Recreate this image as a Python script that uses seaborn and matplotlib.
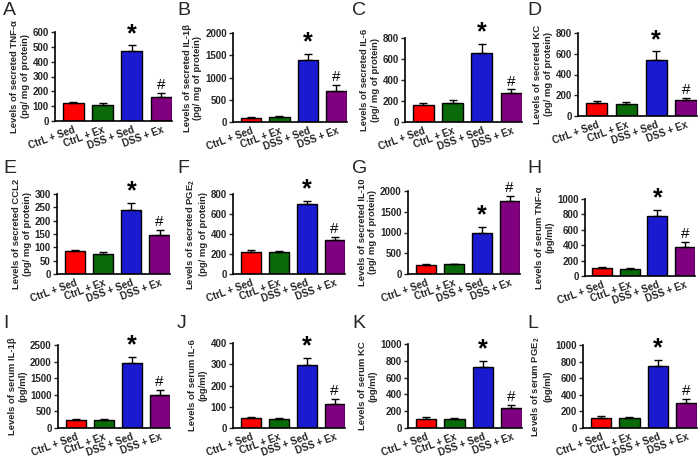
import matplotlib
matplotlib.use("Agg")
import matplotlib.pyplot as plt
import seaborn as sns
import pandas as pd
import numpy as np

sns.set_theme(style="ticks")
plt.rcParams['font.family'] = ['Liberation Sans', 'DejaVu Sans']
plt.rcParams['mathtext.fontset'] = 'custom'
plt.rcParams['mathtext.rm'] = 'Liberation Sans:bold'
plt.rcParams['mathtext.bf'] = 'Liberation Sans:bold'

groups = ["CtrL + Sed", "CtrL + Ex", "DSS + Sed", "DSS + Ex"]
colors = ["#ff0000", "#0a6a0a", "#1a1ad0", "#800080"]

a_mean = [120, 110, 470, 165];   a_err = [10, 12, 42, 22]
b_mean = [100, 110, 1400, 700];  b_err = [15, 15, 130, 140]
c_mean = [165, 180, 660, 275];   c_err = [20, 25, 85, 35]
d_mean = [125, 115, 540, 150];   d_err = [15, 20, 85, 25]
e_mean = [85, 75, 240, 145];     e_err = [5, 6, 27, 20]
f_mean = [225, 220, 700, 340];   f_err = [15, 8, 30, 30]
g_mean = [220, 230, 1000, 1750]; g_err = [20, 20, 140, 140]
h_mean = [100, 90, 780, 375];    h_err = [12, 8, 80, 65]
i_mean = [240, 240, 1950, 1000]; i_err = [40, 30, 200, 150]
j_mean = [45, 43, 295, 115];     j_err = [5, 5, 35, 20]
k_mean = [110, 105, 730, 240];   k_err = [25, 15, 70, 30]
l_mean = [125, 115, 750, 300];   l_err = [15, 15, 70, 55]

panels = [
    ("A", a_mean, a_err, 600, 100, "Levels of secreted TNF-\u03b1\n(pg/ mg of protein)", (55, 32, 172, 121), ["", "", "*", "#"]),
    ("B", b_mean, b_err, 2000, 500, "Levels of secreted IL-1\u03b2\n(pg/ mg of protein)", (233, 33, 347, 122), ["", "", "*", "#"]),
    ("C", c_mean, c_err, 800, 200, "Levels of secreted IL-6\n(pg/ mg of protein)", (405, 38, 522, 122), ["", "", "*", "#"]),
    ("D", d_mean, d_err, 800, 200, "Levels of secreted KC\n(pg/ mg of protein)", (578, 33, 697, 116), ["", "", "*", "#"]),
    ("E", e_mean, e_err, 300, 50, "Levels of secreted CCL2\n(pg/ mg of protein)", (57, 194, 170, 274), ["", "", "*", "#"]),
    ("F", f_mean, f_err, 800, 200, "Levels of secreted PGE$_2$\n(pg/ mg of protein)", (233, 194, 345, 274), ["", "", "*", "#"]),
    ("G", g_mean, g_err, 2000, 500, "Levels of secreted IL-10\n(pg/ mg of protein)", (408, 191, 520, 274), ["", "", "*", "#"]),
    ("H", h_mean, h_err, 1000, 200, "Levels of serum TNF-\u03b1\n(pg/ml)", (585, 199, 695, 276), ["", "", "*", "#"]),
    ("I", i_mean, i_err, 2500, 500, "Levels of serum IL-1\u03b2\n(pg/ml)", (58, 345, 170, 428), ["", "", "*", "#"]),
    ("J", j_mean, j_err, 400, 100, "Levels of serum IL-6\n(pg/ml)", (233, 343, 345, 428), ["", "", "*", "#"]),
    ("K", k_mean, k_err, 1000, 200, "Levels of serum KC\n(pg/ml)", (408, 344, 522, 428), ["", "", "*", "#"]),
    ("L", l_mean, l_err, 1000, 200, "Levels of serum PGE$_2$\n(pg/ml)", (583, 345, 697, 428), ["", "", "*", "#"]),
]

letter_pos = {"A": (3, 2), "B": (177, 2), "C": (352, 2), "D": (527, 2),
              "E": (3, 160), "F": (177, 160), "G": (352, 160), "H": (527, 160),
              "I": (3, 315), "J": (177, 315), "K": (352, 315), "L": (527, 315)}

W, H = 700, 467
fig = plt.figure(figsize=(7, 4.67), dpi=100)

for letter, means, errs, ymax, step, ylabel, (l, t, r, b), marks in panels:
    ax = fig.add_axes([l / W, 1 - b / H, (r - l) / W, (b - t) / H])
    df = pd.DataFrame({"group": groups, "value": means})
    sns.barplot(data=df, x="group", y="value", hue="group", palette=colors,
                order=groups, hue_order=groups, legend=False, width=0.72,
                saturation=1, edgecolor="black", linewidth=1.0, errorbar=None, ax=ax)
    xs = np.arange(len(groups))
    ax.errorbar(xs, means, yerr=[np.zeros(len(errs)), errs], fmt="none",
                ecolor="black", elinewidth=1.0, capsize=3, capthick=1.0, zorder=3)
    for x, m, e, mk in zip(xs, means, errs, marks):
        if mk == "*":
            ax.text(x, m + e - ymax * 0.01, "*", ha="center", va="bottom",
                    fontsize=18, fontweight="bold", color="black")
        elif mk == "#":
            ax.text(x, m + e + ymax * 0.01, "#", ha="center", va="bottom",
                    fontsize=11, color="black")
    ax.set_xlim(-0.63, 3.37)
    ax.set_ylim(0, ymax)
    ax.set_yticks(np.arange(0, ymax + 1, step))
    ax.set_yticklabels([str(v) for v in np.arange(0, ymax + 1, step)],
                       fontsize=7, fontweight="bold")
    ax.set_xticks(xs)
    ax.set_xticklabels(groups, rotation=20, ha="right", rotation_mode="anchor",
                       fontsize=7, fontweight="bold")
    ax.tick_params(axis="x", length=0, pad=3)
    ax.tick_params(axis="y", length=3, width=1.0, pad=1.5)
    ax.set_xlabel("")
    ax.set_ylabel(ylabel, fontsize=6.8, fontweight="bold", labelpad=2, linespacing=1.2)
    for s in ["top", "right"]:
        ax.spines[s].set_visible(False)
    for s in ["left", "bottom"]:
        ax.spines[s].set_linewidth(1.2)
        ax.spines[s].set_color("black")
    lx, ly = letter_pos[letter]
    fig.text(lx / W, 1 - ly / H, letter, ha="left", va="top", fontsize=14)

fig.savefig("out.png", dpi=100)
